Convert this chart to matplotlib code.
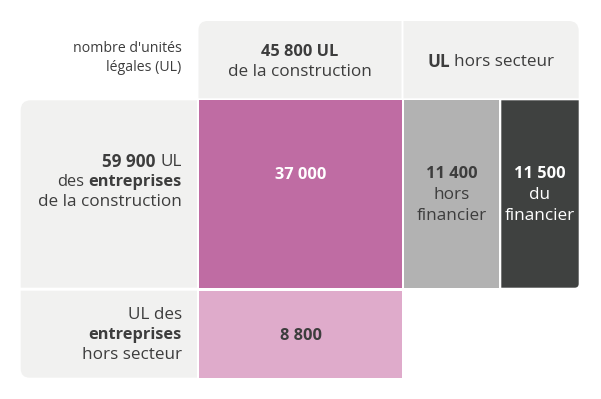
import matplotlib
matplotlib.use("Agg")
import matplotlib.pyplot as plt
from matplotlib.path import Path
from matplotlib.patches import PathPatch

plt.rcParams['font.family'] = ['Open Sans', 'DejaVu Sans']

# ---- data ----
col_headers = ["45 800 UL de la construction", "UL hors secteur"]
row_headers = ["59 900 UL des entreprises de la construction",
               "UL des entreprises hors secteur"]
cell_values = ["37 000", "11 400", "11 500", "8 800"]
cell_captions = ["", "hors\nfinancier", "du\nfinancier", ""]
corner_label = ["nombre d'unités", "légales (UL)"]

W, H = 601, 399
fig = plt.figure(figsize=(W / 100, H / 100), dpi=100)
ax = fig.add_axes([0, 0, 1, 1])
ax.set_xlim(0, W)
ax.set_ylim(H, 0)
ax.axis('off')
renderer = fig.canvas.get_renderer()

LIGHT = '#f1f1f0'
PURPLE = '#bf6ca3'
PINK = '#dfabcb'
GRAY = '#b2b2b2'
DARK = '#3f4140'
TXT = '#3d3d3d'
PX = 100 / 72
DY = 1.8  # visual centring offset (bbox includes descent)


def rrect(x0, y0, x1, y1, color, tl=0, tr=0, br=0, bl=0):
    verts = [(x0 + tl, y0), (x1 - tr, y0)]
    codes = [Path.MOVETO, Path.LINETO]
    if tr:
        verts += [(x1, y0), (x1, y0 + tr)]
        codes += [Path.CURVE3, Path.CURVE3]
    verts += [(x1, y1 - br)]
    codes += [Path.LINETO]
    if br:
        verts += [(x1, y1), (x1 - br, y1)]
        codes += [Path.CURVE3, Path.CURVE3]
    verts += [(x0 + bl, y1)]
    codes += [Path.LINETO]
    if bl:
        verts += [(x0, y1), (x0, y1 - bl)]
        codes += [Path.CURVE3, Path.CURVE3]
    verts += [(x0, y0 + tl)]
    codes += [Path.LINETO]
    if tl:
        verts += [(x0, y0), (x0 + tl, y0)]
        codes += [Path.CURVE3, Path.CURVE3]
    verts += [(x0 + tl, y0)]
    codes += [Path.CLOSEPOLY]
    ax.add_patch(PathPatch(Path(verts, codes), facecolor=color, edgecolor='none'))


def width_of(s, size, weight):
    t = ax.text(0, 0, s, fontsize=size, fontweight=weight)
    w = t.get_window_extent(renderer).width
    t.remove()
    return w


def line(parts, x, y, ha='center', size=12, color=TXT):
    """parts: list of (text, weight) separated by spaces."""
    gap = 0.26 * size * PX
    widths = [width_of(p, size, wt) for p, wt in parts]
    total = sum(widths) + gap * (len(parts) - 1)
    if ha == 'center':
        start = x - total / 2
    elif ha == 'right':
        start = x - total
    else:
        start = x
    cx = start
    for (p, wt), w in zip(parts, widths):
        ax.text(cx, y + DY, p, fontsize=size, fontweight=wt, color=color,
                ha='left', va='center')
        cx += w + gap


# ---- cells ----
# header row
rrect(198.5, 21, 401.5, 98.3, LIGHT, tl=9)
rrect(403.5, 21, 578.7, 98.3, LIGHT, tr=10)
# row headers
rrect(20.7, 100.3, 197.0, 287.7, LIGHT, tl=10)
rrect(20.7, 290.7, 197.0, 377.7, LIGHT, bl=9)
# data cells
rrect(199.0, 100.3, 401.5, 287.7, PURPLE)
rrect(403.5, 100.3, 498.7, 287.7, GRAY)
rrect(501.3, 100.3, 578.7, 287.7, DARK, br=4)
rrect(199.0, 290.7, 401.5, 377.7, PINK)

FS = 11.8
RFS = 12.3
SFS = 10.2

# corner label
ax.text(181.7, 46.5 + DY, corner_label[0], fontsize=SFS, color=TXT, ha='right', va='center')
ax.text(181.7, 65.5 + DY, corner_label[1], fontsize=SFS, color=TXT, ha='right', va='center')

# column headers
line([("45 800 UL", 'bold')], 300, 50.5, size=FS)
line([("de la construction", 'normal')], 300, 70.5, size=RFS)
line([("UL", 'bold'), ("hors secteur", 'normal')], 491, 60.5, size=RFS)

# row headers
line([("59 900", 'bold'), ("UL", 'normal')], 181.7, 160, ha='right', size=RFS)
line([("des", 'normal'), ("entreprises", 'bold')], 181.7, 180, ha='right', size=FS)
line([("de la construction", 'normal')], 181.7, 200.5, ha='right', size=RFS)

line([("UL des", 'normal')], 181.7, 313, ha='right', size=RFS)
line([("entreprises", 'bold')], 181.7, 333.5, ha='right', size=FS)
line([("hors secteur", 'normal')], 181.7, 353, ha='right', size=RFS)

# values
line([(cell_values[0], 'bold')], 300.5, 173, size=FS, color='white')
line([(cell_values[1], 'bold')], 452, 172.5, size=FS, color=TXT)
for i, s in enumerate(cell_captions[1].split('\n')):
    line([(s, 'normal')], 452, 193.3 + i * 20.7, size=RFS, color=TXT)
line([(cell_values[2], 'bold')], 540, 172.5, size=FS, color='white')
for i, s in enumerate(cell_captions[2].split('\n')):
    line([(s, 'normal')], 540, 193.3 + i * 20.7, size=RFS, color='white')
line([(cell_values[3], 'bold')], 300.5, 334, size=FS, color=TXT)

fig.savefig('out.png', dpi=100, facecolor='white')
